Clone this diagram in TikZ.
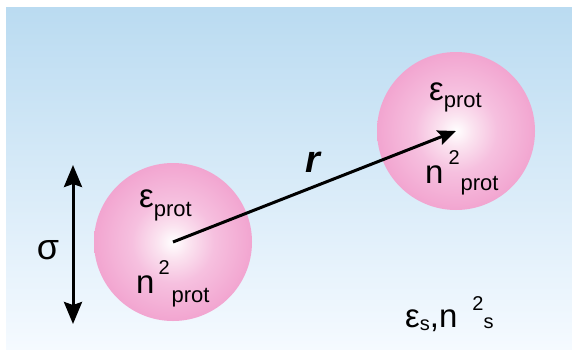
\documentclass[tikz,border=0pt]{standalone}
\usepackage{fontspec}
\setmainfont{Liberation Sans}
\usetikzlibrary{arrows.meta}
\definecolor{bgtop}{RGB}{186,219,241}
\definecolor{bgbot}{RGB}{245,250,255}
\definecolor{pinkedge}{RGB}{242,165,208}
\definecolor{pinkmid}{RGB}{246,192,223}
\definecolor{pinklite}{RGB}{251,228,240}
\pgfdeclareradialshading{ballshade}{\pgfpoint{0bp}{0bp}}{color(0bp)=(white); color(5bp)=(pinklite); color(13bp)=(pinkmid); color(25bp)=(pinkedge); color(50bp)=(pinkedge)}
\newcommand\mysub[3]{\raisebox{-#1pt}{\fontsize{#2}{#2}\selectfont #3}}
\newcommand\mysup[3]{\raisebox{#1pt}{\fontsize{#2}{#2}\selectfont #3}}
\tikzset{
  ball/.style={circle, minimum size=158pt, inner sep=0pt, shading=ballshade, draw=none},
  lab/.style={inner sep=0pt, anchor=base west, font=\fontsize{33}{33}\selectfont},
  arr/.style={line width=3pt},
}
\begin{document}
\begin{tikzpicture}[x=1pt,y=-1pt]
\useasboundingbox (0,0) rectangle (572,351);
\fill[top color=bgtop, bottom color=bgbot] (6,7) rectangle (572,349);
\node[ball] (L) at (173,242) {};
\node[ball] (R) at (456,131) {};
\node[lab] (Le) at (139,207) {ε\mysub{9}{22}{prot}};
\node[lab] (Ln) at (136,293) {n\hspace{4pt}\mysup{19}{20}{2}\hspace{2pt}\mysub{9}{22}{prot}};
\node[lab] (Re) at (429,100) {ε\mysub{7}{22}{prot}};
\node[lab] (Rn) at (425,183) {n\hspace{5pt}\mysup{19}{20}{2}\hspace{1pt}\mysub{7}{22}{prot}};
\node[lab] (S) at (405,327) {ε\mysub{3}{20}{s},n\hspace{15pt}\mysup{17}{20}{2}\mysub{1}{20}{s}};
\node (sig) at (48,250) {\fontsize{36}{36}\selectfont σ};
\node (rl) at (313,162) {\fontsize{38}{38}\selectfont\bfseries\itshape r};
\coordinate (st) at (73,165);
\coordinate (sb) at (73,324);
\draw[arr, {Stealth[length=22pt,width=18pt,inset=3pt]}-{Stealth[length=22pt,width=18pt,inset=3pt]}] (st) -- (sb);
\draw[arr, -{Stealth[length=18pt,width=15pt,inset=3pt]}] (L.center) -- (R.center);
\end{tikzpicture}
\end{document}
